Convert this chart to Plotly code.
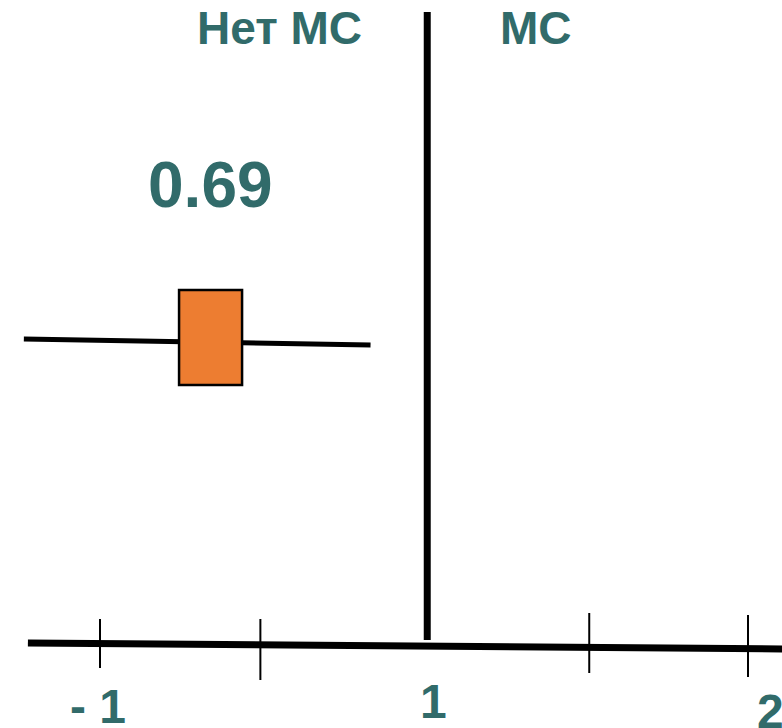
import plotly.graph_objects as go

# ---- data (axis units: tick index along the scale; y in chart rows, top = 0) ----
tick_pos = [0.0, 0.99, 3.02, 4.0]
tick_top = [619, 619, 613, 615]
tick_bottom = [668, 680, 673, 677]

label_pos = [-0.015, 2.056, 4.136]
label_text = ["- 1", "1", "2"]
label_y = [706, 701, 711]

axis_x = [-0.445, 4.22]
axis_y = [643, 649]

ref_x = [2.02, 2.02]          # line of no effect (value 1)
ref_y = [12, 640]

ci_x = [-0.47, 1.67]          # confidence interval
ci_y = [339, 345]
est_x0, est_x1 = 0.488, 0.877  # estimate box
est_y0, est_y1 = 290, 385
est_label = "0.69"

header_left = "Нет МС"
header_right = "МС"

TEAL = "#316b6a"
ORANGE = "#ed7d31"
FONT = "Liberation Sans, Arial, sans-serif"

fig = go.Figure()

# axis line
fig.add_trace(go.Scatter(x=axis_x, y=axis_y, mode="lines",
                         line=dict(color="black", width=7), hoverinfo="skip"))
# ticks
tx, ty = [], []
for p, t, b in zip(tick_pos, tick_top, tick_bottom):
    tx += [p, p, None]
    ty += [t, b, None]
fig.add_trace(go.Scatter(x=tx, y=ty, mode="lines",
                         line=dict(color="black", width=2), hoverinfo="skip"))
# reference line
fig.add_trace(go.Scatter(x=ref_x, y=ref_y, mode="lines",
                         line=dict(color="black", width=7), hoverinfo="skip"))
# CI line
fig.add_trace(go.Scatter(x=ci_x, y=ci_y, mode="lines",
                         line=dict(color="black", width=5), hoverinfo="skip"))
# estimate box
fig.add_shape(type="rect", xref="x", yref="y", x0=est_x0, x1=est_x1,
              y0=est_y0, y1=est_y1, fillcolor=ORANGE,
              line=dict(color="black", width=2.5), layer="above")

# texts
def label(x, y, text, size):
    fig.add_annotation(x=x, y=y, xref="x", yref="y", text="<b>%s</b>" % text,
                       showarrow=False, font=dict(family=FONT, size=size, color=TEAL),
                       xanchor="center", yanchor="middle")

for p, lab, yy in zip(label_pos, label_text, label_y):
    label(p, yy, lab, 48)

label((est_x0 + est_x1) / 2, 185, est_label, 64)
label(1.11, 28, header_left, 46)
label(2.69, 28, header_right, 46)

fig.update_layout(
    width=782, height=728,
    margin=dict(l=0, r=0, t=0, b=0),
    paper_bgcolor="white", plot_bgcolor="white",
    showlegend=False,
    xaxis=dict(range=[-0.6173, 4.2099], visible=False, fixedrange=True),
    yaxis=dict(range=[728, 0], visible=False, fixedrange=True),
)

fig.write_html("out.html")
